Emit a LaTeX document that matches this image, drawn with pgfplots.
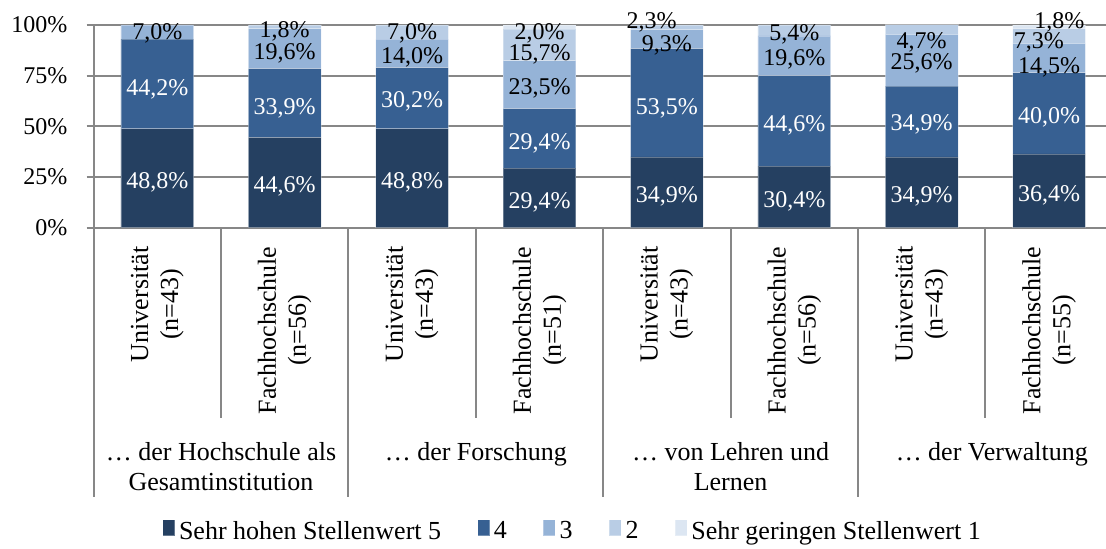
\documentclass[border=0pt]{standalone}
\usepackage{fontspec}
\setmainfont{Liberation Serif}
\usepackage{pgfplots}
\pgfplotsset{compat=1.18}
\usepackage{pgfplotstable}

\definecolor{c5}{HTML}{254061}
\definecolor{c4}{HTML}{376092}
\definecolor{c3}{HTML}{95B3D7}
\definecolor{c2}{HTML}{B9CDE5}
\definecolor{c1}{HTML}{DCE6F2}
\definecolor{gridc}{HTML}{878787}

\newcommand\tickfont{\fontsize{12}{14}\selectfont}
\newcommand\catfont{\fontsize{13}{15}\selectfont}

\pgfplotstableread{
x   f5   f4   f3   f2   f1
0.5 48.8 44.2 7.0  0    0
1.5 44.6 33.9 19.6 1.8  0
2.5 48.8 30.2 14.0 7.0  0
3.5 29.4 29.4 23.5 15.7 2.0
4.5 34.9 53.5 9.3  2.3  0
5.5 30.4 44.6 19.6 5.4  0
6.5 34.9 34.9 25.6 4.7  0
7.5 36.4 40.0 14.5 7.3  1.8
}\datatab

% label positions (y = centre of the label, in %)
\pgfplotstableread{
x   y    v
0.5 23.5 48.8
0.5 69.3 44.2
1.5 21.4 44.6
1.5 60.0 33.9
2.5 23.5 48.8
2.5 63.3 30.2
3.5 13.7 29.4
3.5 42.4 29.4
4.5 16.5 34.9
4.5 60.0 53.5
5.5 14.2 30.4
5.5 51.5 44.6
6.5 16.5 34.9
6.5 51.8 34.9
7.5 17.0 36.4
7.5 55.6 40.0
}\whitelab

\pgfplotstableread{
x    y     v
0.5  96.7  7.0
1.5  97.9  1.8
1.5  86.8  19.6
2.5  96.7  7.0
2.5  85.2  14.0
3.5  96.7  2.0
3.5  86.3  15.7
3.5  69.6  23.5
4.38 102.5 2.3
4.5  91.0  9.3
5.5  96.4  5.4
5.5  84.1  19.6
6.5  92.6  4.7
6.5  81.9  25.6
7.58 102.4 1.8
7.42 92.2  7.3
7.5  80.3  14.5
}\blacklab

\pgfplotsset{/pgfplots/ybar legend/.style={/pgfplots/legend image code/.code={\fill[##1, draw=none] (0pt,0pt) rectangle (7pt,7pt);}}}

\begin{document}
\begin{tikzpicture}
\path[use as bounding box] (0,0) rectangle (553pt,274pt);
\begin{axis}[
  at={(46.8pt,160.15pt)}, anchor=south west,
  scale only axis, width=509.6pt, height=101.35pt,
  xmin=0, xmax=8, ymin=0, ymax=100,
  ybar stacked, bar width=0.57,
  xtick=\empty,
  ytick={0,25,50,75,100},
  yticklabels={0\%,25\%,50\%,75\%,100\%},
  yticklabel style={font=\tickfont, inner sep=0pt, xshift=-9.4pt},
  tick align=outside, major tick length=3.5pt,
  ymajorgrids, grid style={gridc, line width=1pt},
  axis line style={gridc, line width=1pt},
  tick style={gridc, line width=1pt},
  axis x line*=bottom, axis y line*=left,
  clip=false,
  legend columns=5,
  legend style={at={(0.4709,-1.50)}, anchor=center, draw=none, fill=none,
    font=\catfont, /tikz/every even column/.append style={column sep=16pt}},
  every axis plot/.append style={draw=white, draw opacity=0.3, line width=0.4pt},
]
\addplot[fill=c5] table[x=x, y=f5] {\datatab};
\addplot[fill=c4] table[x=x, y=f4] {\datatab};
\addplot[fill=c3] table[x=x, y=f3] {\datatab};
\addplot[fill=c2] table[x=x, y=f2] {\datatab};
\addplot[fill=c1] table[x=x, y=f1] {\datatab};
\legend{Sehr hohen Stellenwert 5, 4, 3, 2, Sehr geringen Stellenwert 1}

% separators in the category area
\draw[gridc, line width=1pt] (axis cs:0,0) -- ++(0pt,-134.6pt);
\draw[gridc, line width=1pt] (axis cs:2,0) -- ++(0pt,-134.6pt);
\draw[gridc, line width=1pt] (axis cs:4,0) -- ++(0pt,-134.6pt);
\draw[gridc, line width=1pt] (axis cs:6,0) -- ++(0pt,-134.6pt);
\draw[gridc, line width=1pt] (axis cs:8,0) -- ++(0pt,-134.6pt);
\draw[gridc, line width=1pt] (axis cs:1,0) -- ++(0pt,-95pt);
\draw[gridc, line width=1pt] (axis cs:3,0) -- ++(0pt,-95pt);
\draw[gridc, line width=1pt] (axis cs:5,0) -- ++(0pt,-95pt);
\draw[gridc, line width=1pt] (axis cs:7,0) -- ++(0pt,-95pt);

% rotated sub-category labels
\node[rotate=90, anchor=east, align=center, inner sep=0pt, font=\catfont] at ([yshift=-9.2pt]axis cs:0.5,0) {Universität\\(n=43)};
\node[rotate=90, anchor=east, align=center, inner sep=0pt, font=\catfont] at ([yshift=-9.2pt]axis cs:1.5,0) {Fachhochschule\\(n=56)};
\node[rotate=90, anchor=east, align=center, inner sep=0pt, font=\catfont] at ([yshift=-9.2pt]axis cs:2.5,0) {Universität\\(n=43)};
\node[rotate=90, anchor=east, align=center, inner sep=0pt, font=\catfont] at ([yshift=-9.2pt]axis cs:3.5,0) {Fachhochschule\\(n=51)};
\node[rotate=90, anchor=east, align=center, inner sep=0pt, font=\catfont] at ([yshift=-9.2pt]axis cs:4.5,0) {Universität\\(n=43)};
\node[rotate=90, anchor=east, align=center, inner sep=0pt, font=\catfont] at ([yshift=-9.2pt]axis cs:5.5,0) {Fachhochschule\\(n=56)};
\node[rotate=90, anchor=east, align=center, inner sep=0pt, font=\catfont] at ([yshift=-9.2pt]axis cs:6.5,0) {Universität\\(n=43)};
\node[rotate=90, anchor=east, align=center, inner sep=0pt, font=\catfont] at ([yshift=-9.2pt]axis cs:7.5,0) {Fachhochschule\\(n=55)};

% group labels
\node[anchor=base, inner sep=0pt, font=\catfont] at ([yshift=-116.6pt]axis cs:1,0) {… der Hochschule als};
\node[anchor=base, inner sep=0pt, font=\catfont] at ([yshift=-131.6pt]axis cs:1,0) {Gesamtinstitution};
\node[anchor=base, inner sep=0pt, font=\catfont] at ([yshift=-116.6pt]axis cs:3,0) {… der Forschung};
\node[anchor=base, inner sep=0pt, font=\catfont] at ([yshift=-116.6pt]axis cs:5,0) {… von Lehren und};
\node[anchor=base, inner sep=0pt, font=\catfont] at ([yshift=-131.6pt]axis cs:5,0) {Lernen};
\node[anchor=base, inner sep=0pt, font=\catfont] at ([yshift=-116.6pt]axis cs:7.05,0) {… der Verwaltung};
\end{axis}

\begin{axis}[
  at={(46.8pt,160.15pt)}, anchor=south west,
  scale only axis, width=509.6pt, height=101.35pt,
  xmin=0, xmax=8, ymin=0, ymax=100,
  hide axis, clip=false,
  /pgf/number format/assume math mode=true,
  point meta=explicit,
  nodes near coords={\pgfmathprintnumber[fixed, fixed zerofill, precision=1, use comma]{\pgfplotspointmeta}\%},
  every node near coord/.append style={font=\tickfont, inner sep=0pt, text height=8.1pt, text depth=0pt, anchor=center},
]
\addplot[draw=none, mark=none, every node near coord/.append style={text=white}] table[x=x, y=y, meta=v] {\whitelab};
\addplot[draw=none, mark=none, every node near coord/.append style={text=black}] table[x=x, y=y, meta=v] {\blacklab};
\end{axis}
\end{tikzpicture}
\end{document}
